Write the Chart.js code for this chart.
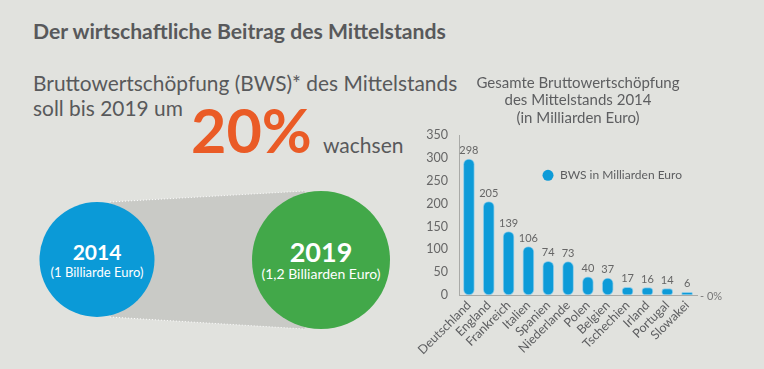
<!DOCTYPE html>
<html>
<head>
<meta charset="utf-8">
<script src="https://cdn.jsdelivr.net/npm/chart.js@4"></script>
<style>
  html, body { margin: 0; padding: 0; }
  body { width: 764px; height: 369px; background: #e1e2de; position: relative; overflow: hidden; font-family: Lato, sans-serif; }
  #art { position: absolute; left: 0; top: 0; }
  #wrap { position: absolute; left: 390px; top: 60px; width: 345px; height: 309px; }
</style>
</head>
<body>
<svg id="art" width="764" height="369" xmlns="http://www.w3.org/2000/svg">
  <text x="33" y="39" font-family="Lato" font-weight="700" font-size="21.2" fill="#58595b">Der wirtschaftliche Beitrag des Mittelstands</text>
  <text x="33" y="91" font-family="Lato" font-size="20.9" fill="#58595b">Bruttowertschöpfung (BWS)* des Mittelstands</text>
  <text x="33" y="116" font-family="Lato" font-size="20.9" fill="#58595b">soll bis 2019 um</text>
  <text x="191" y="153" font-family="Lato" font-weight="700" font-size="61" fill="#ea5b26">20%</text>
  <text x="323" y="153" font-family="Lato" font-size="21" fill="#58595b">wachsen</text>

  <polygon points="110,202 305,191 305,329 110,317" fill="#c9cac6"/>
  <line x1="110" y1="202" x2="305" y2="191" stroke="#ffffff" stroke-width="1" stroke-dasharray="1 2"/>
  <line x1="110" y1="317" x2="305" y2="329" stroke="#ffffff" stroke-width="1" stroke-dasharray="1 2"/>

  <circle cx="97" cy="259.5" r="57.5" fill="#0b9ad7"/>
  <circle cx="321" cy="260" r="69" fill="#42a849"/>

  <text x="97" y="260" text-anchor="middle" font-family="Lato" font-weight="700" font-size="21" fill="#ffffff">2014</text>
  <text x="97" y="277" text-anchor="middle" font-family="Lato" font-size="13" fill="#ffffff">(1 Billiarde Euro)</text>
  <text x="321" y="262" text-anchor="middle" font-family="Lato" font-weight="700" font-size="27" fill="#ffffff">2019</text>
  <text x="321" y="278.5" text-anchor="middle" font-family="Lato" font-size="14" fill="#ffffff">(1,2 Billiarden Euro)</text>
</svg>

<div id="wrap"><canvas id="chart"></canvas></div>

<script>
// --- data ---------------------------------------------------------------
var categories = ['Deutschland', 'England', 'Frankreich', 'Italien', 'Spanien', 'Niederlande',
  'Polen', 'Belgien', 'Tschechien', 'Irland', 'Portugal', 'Slowakei'];
var bwsValues = [298, 205, 139, 106, 74, 73, 40, 37, 17, 16, 14, 6];
var yTicks = [0, 50, 100, 150, 200, 250, 300, 350];
var titleLines = ['Gesamte Bruttowertschöpfung', 'des Mittelstands 2014', '(in Milliarden Euro)'];
var seriesLabel = 'BWS in Milliarden Euro';
var tailNote = '- 0%';

var blue = '#0d9bd8';
var textGrey = '#5d5e60';

// value labels above the bars, the inline legend and the "- 0%" note
var extras = {
  id: 'extras',
  afterDatasetsDraw: function (chart) {
    var ctx = chart.ctx;
    var a = chart.chartArea;
    var meta = chart.getDatasetMeta(0);
    ctx.save();
    ctx.font = '11px Lato';
    ctx.fillStyle = '#666';
    ctx.textAlign = 'center';
    ctx.textBaseline = 'bottom';
    meta.data.forEach(function (bar, i) {
      ctx.fillText(String(bwsValues[i]), bar.x, bar.y - 3);
    });

    // legend item
    ctx.beginPath();
    ctx.fillStyle = blue;
    ctx.arc(a.left + 89, a.top + 40, 5.5, 0, Math.PI * 2);
    ctx.fill();
    ctx.font = '12px Lato';
    ctx.fillStyle = textGrey;
    ctx.textAlign = 'left';
    ctx.textBaseline = 'middle';
    ctx.fillText(chart.data.datasets[0].label, a.left + 101, a.top + 40);

    ctx.font = '11px Lato';
    ctx.fillStyle = '#777';
    ctx.fillText(tailNote, a.right + 3, a.bottom + 1);
    ctx.restore();
  }
};

new Chart(document.getElementById('chart'), {
  type: 'bar',
  data: {
    labels: categories,
    datasets: [{
      label: seriesLabel,
      data: bwsValues,
      backgroundColor: blue,
      borderColor: 'rgba(110, 195, 235, 0.7)',
      borderWidth: 1,
      borderRadius: 6,
      borderSkipped: false,
      barThickness: 11
    }]
  },
  options: {
    responsive: true,
    maintainAspectRatio: false,
    animation: false,
    layout: { padding: { left: 0, right: 38, top: 0, bottom: 0 } },
    plugins: {
      legend: { display: false },
      tooltip: { enabled: false },
      title: {
        display: true,
        fullSize: false,
        text: titleLines,
        color: textGrey,
        font: { family: 'Lato', size: 15, weight: 'normal', lineHeight: 1.14 },
        padding: { top: 15, bottom: 9 }
      }
    },
    scales: {
      y: {
        min: 0,
        max: 350,
        afterBuildTicks: function (scale) {
          scale.ticks = yTicks.map(function (v) { return { value: v }; });
        },
        afterFit: function (scale) { scale.width = 69; },
        grid: { display: false, drawTicks: false },
        border: { display: true, color: '#a9aaa7', width: 1 },
        ticks: { padding: 11, color: '#666', font: { family: 'Lato', size: 12.5 } }
      },
      x: {
        afterFit: function (scale) { scale.height = 74; },
        grid: { display: false, drawTicks: false },
        border: { display: true, color: '#a9aaa7', width: 1 },
        ticks: {
          autoSkip: false,
          minRotation: 45,
          maxRotation: 45,
          padding: 3,
          color: textGrey,
          font: { family: 'Lato', size: 12.5 }
        }
      }
    }
  },
  plugins: [extras]
});
</script>
</body>
</html>
